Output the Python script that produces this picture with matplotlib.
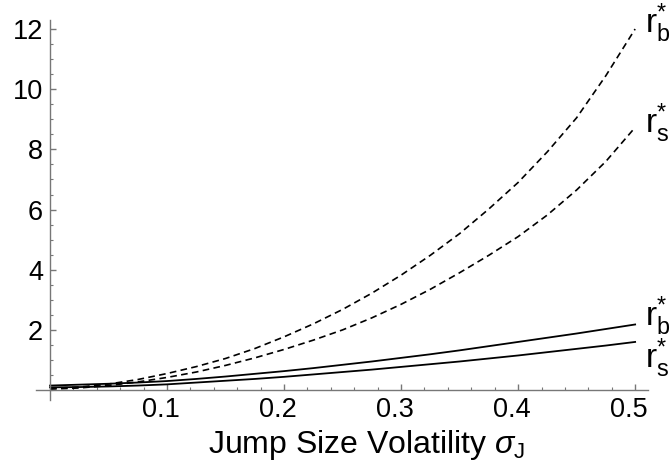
import matplotlib.pyplot as plt
import matplotlib.transforms as mtransforms
from matplotlib.ticker import MultipleLocator

plt.rcParams['font.family'] = ['Liberation Sans', 'DejaVu Sans']
plt.rcParams['mathtext.fontset'] = 'custom'
plt.rcParams['mathtext.rm'] = 'Liberation Sans'
plt.rcParams['mathtext.it'] = 'Liberation Sans:italic'

# jump size volatility grid and values
sigma_j = [0.0, 0.025, 0.05, 0.075, 0.1, 0.125, 0.15, 0.175, 0.2, 0.225, 0.25,
           0.275, 0.3, 0.325, 0.35, 0.375, 0.4, 0.425, 0.45, 0.475, 0.5]
rb_dashed = [0.05, 0.1, 0.2, 0.35, 0.55, 0.78, 1.05, 1.38, 1.77, 2.2, 2.68,
             3.22, 3.82, 4.48, 5.2, 6.02, 6.9, 7.92, 9.05, 10.45, 12.0]
rs_dashed = [0.03, 0.07, 0.15, 0.27, 0.42, 0.6, 0.82, 1.07, 1.35, 1.66, 2.0,
             2.4, 2.85, 3.35, 3.9, 4.48, 5.1, 5.82, 6.65, 7.6, 8.73]
rb_solid = [0.15, 0.18, 0.21, 0.25, 0.3, 0.37, 0.45, 0.54, 0.63, 0.73, 0.84,
            0.95, 1.07, 1.19, 1.32, 1.46, 1.6, 1.74, 1.88, 2.03, 2.18]
rs_solid = [0.09, 0.1, 0.12, 0.15, 0.19, 0.25, 0.31, 0.37, 0.44, 0.52, 0.6,
            0.68, 0.77, 0.86, 0.95, 1.05, 1.15, 1.26, 1.37, 1.48, 1.6]

fig = plt.figure(figsize=(6.72, 4.67), dpi=100)
ax = fig.add_axes([36 / 672, 67 / 467, 612 / 672, 380 / 467])

ax.plot(sigma_j, rb_dashed, color='black', lw=1.2, ls=(0, (4, 2.6)))
ax.plot(sigma_j, rs_dashed, color='black', lw=1.2, ls=(0, (4, 2.6)))
ax.plot(sigma_j, rb_solid, color='black', lw=1.3)
ax.plot(sigma_j, rs_solid, color='black', lw=1.3)

# curve labels next to the right ends
labels = [(rb_dashed, 'b', 6), (rs_dashed, 's', 4), (rb_solid, 'b', 8), (rs_solid, 's', -16)]
for ys, sub, dy in labels:
    ax.annotate(r'$\mathregular{r_{%s}^{*}}$' % sub, xy=(sigma_j[-1], ys[-1]),
                xytext=(10, dy), textcoords='offset pixels',
                ha='left', va='center', fontsize=24, annotation_clip=False)

ax.set_xlim(-0.012, 0.511)
ax.set_ylim(-0.33, 12.3)
for s in ['top', 'right']:
    ax.spines[s].set_visible(False)
ax.spines['left'].set_position(('data', 0))
ax.spines['bottom'].set_position(('data', 0))
for s in ['left', 'bottom']:
    ax.spines[s].set_color('#777777')
    ax.spines[s].set_linewidth(1.0)

ax.xaxis.set_minor_locator(MultipleLocator(0.02))
ax.yaxis.set_minor_locator(MultipleLocator(0.5))
ax.set_xticks([0.1, 0.2, 0.3, 0.4, 0.5])
ax.set_xticklabels(['0.1', '0.2', '0.3', '0.4', '0.5'])
ax.set_yticks([2, 4, 6, 8, 10, 12])
ax.set_yticklabels(['2', '4', '6', '8', '10', '12'])
ax.tick_params(which='both', direction='in', color='#777777', labelsize=19.5, pad=5)
ax.tick_params(which='major', length=4, width=1)
ax.tick_params(which='minor', length=2.5, width=0.8)

# x tick labels sit a little left of their ticks in the original
shift = mtransforms.ScaledTranslation(-6 / 100, 0, fig.dpi_scale_trans)
for lab in ax.get_xticklabels():
    lab.set_transform(lab.get_transform() + shift)

fig.text(0.545, 0.03, r'Jump Size Volatility $\sigma_{\mathrm{J}}$', ha='center',
         va='baseline', fontsize=23)

fig.savefig('out.png', dpi=100)
